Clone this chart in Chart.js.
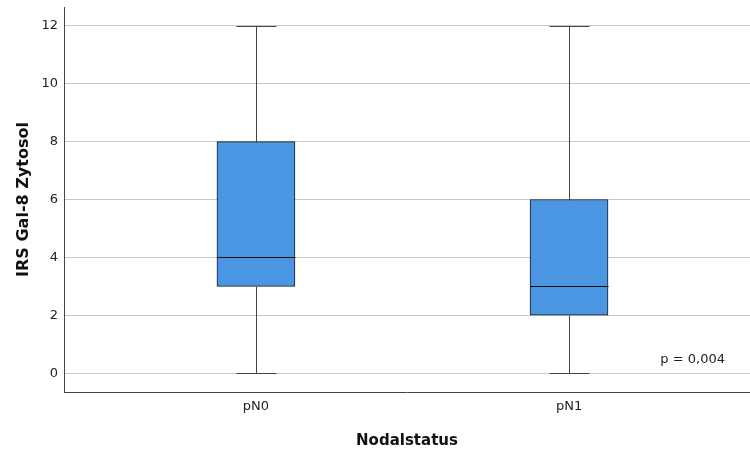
<!DOCTYPE html>
<html>
<head>
<meta charset="utf-8">
<script src="https://cdn.jsdelivr.net/npm/chart.js@4/dist/chart.umd.min.js"></script>
<style>
  html, body { margin: 0; padding: 0; background: #fff; }
  #wrap { width: 750px; height: 450px; }
</style>
</head>
<body>
<div id="wrap"><canvas id="boxChart" width="750" height="450"></canvas></div>
<script>
// Nodalstatus groups and their box plot summaries
const categories = ['pN0', 'pN1'];
const mins = [0, 0];
const q1s = [3, 2];
const medians = [4, 3];
const q3s = [8, 6];
const maxs = [12, 12];
const yTicks = [0, 2, 4, 6, 8, 10, 12];
const pText = 'p = 0,004';

const FONT = '"DejaVu Sans", Verdana, sans-serif';
const BOX_W = 78;
const CAP_W = 40;

// whiskers, caps, medians and the p-value note
const boxPlot = {
  id: 'boxPlot',
  afterDatasetsDraw(chart) {
    const { ctx, chartArea, scales: { x, y } } = chart;
    ctx.save();
    ctx.lineWidth = 1;
    categories.forEach((c, i) => {
      const cx = Math.round(x.getPixelForValue(i)) + 0.5;
      const yMin = Math.round(y.getPixelForValue(mins[i])) + 0.5;
      const yMax = Math.round(y.getPixelForValue(maxs[i])) + 0.5;
      const yQ1 = Math.round(y.getPixelForValue(q1s[i])) + 0.5;
      const yQ3 = Math.round(y.getPixelForValue(q3s[i])) + 0.5;
      const yMed = Math.round(y.getPixelForValue(medians[i])) + 0.5;
      ctx.strokeStyle = '#444';
      ctx.beginPath();
      ctx.moveTo(cx, yMax); ctx.lineTo(cx, yQ3);
      ctx.moveTo(cx, yQ1); ctx.lineTo(cx, yMin);
      ctx.moveTo(cx - CAP_W / 2, yMax); ctx.lineTo(cx + CAP_W / 2, yMax);
      ctx.moveTo(cx - CAP_W / 2, yMin); ctx.lineTo(cx + CAP_W / 2, yMin);
      ctx.stroke();
      ctx.strokeStyle = '#111';
      ctx.beginPath();
      ctx.moveTo(cx - BOX_W / 2, yMed); ctx.lineTo(cx + BOX_W / 2, yMed);
      ctx.stroke();
    });
    ctx.fillStyle = '#222';
    ctx.font = '13px ' + FONT;
    ctx.textAlign = 'right';
    ctx.textBaseline = 'middle';
    ctx.fillText(pText, chartArea.right - 25, y.getPixelForValue(0) - 14);
    ctx.restore();
  }
};

const ctx = document.getElementById('boxChart').getContext('2d');
new Chart(ctx, {
  type: 'bar',
  data: {
    datasets: [{
      data: categories.map((c, i) => ({ x: i, y: [q1s[i], q3s[i]] })),
      backgroundColor: '#4a96e2',
      borderColor: '#1a1a1a',
      borderWidth: 1,
      borderSkipped: false,
      barThickness: BOX_W
    }]
  },
  options: {
    responsive: false,
    animation: false,
    layout: { padding: { top: 7, right: 0, left: 0, bottom: 0 } },
    plugins: { legend: { display: false }, tooltip: { enabled: false } },
    scales: {
      x: {
        type: 'linear',
        offset: false,
        min: -0.613,
        max: 1.578,
        afterBuildTicks: s => { s.ticks = categories.map((c, i) => ({ value: i })); },
        afterFit: s => { s.height = 58; s.paddingLeft = 0; s.paddingRight = 0; },
        grid: { display: false, drawTicks: false },
        border: { display: true, color: '#444', width: 1 },
        ticks: {
          padding: 7,
          color: '#222',
          font: { family: FONT, size: 13 },
          callback: v => categories[v]
        },
        title: {
          display: true,
          text: 'Nodalstatus',
          color: '#111',
          font: { family: FONT, size: 15, weight: 'bold' },
          padding: { top: 5, bottom: 0 }
        }
      },
      y: {
        min: -0.65,
        max: 12.65,
        afterBuildTicks: s => { s.ticks = yTicks.map(v => ({ value: v })); },
        afterFit: s => { s.width = 64; s.paddingTop = 0; s.paddingBottom = 0; },
        grid: { color: '#c8c8c8', drawTicks: false },
        border: { display: true, color: '#444', width: 1 },
        ticks: {
          padding: 6,
          color: '#222',
          font: { family: FONT, size: 13 }
        },
        title: {
          display: true,
          text: 'IRS Gal-8 Zytosol',
          color: '#111',
          font: { family: FONT, size: 16, weight: 'bold' },
          padding: { top: 14, bottom: 0 }
        }
      }
    }
  },
  plugins: [boxPlot]
});
</script>
</body>
</html>
